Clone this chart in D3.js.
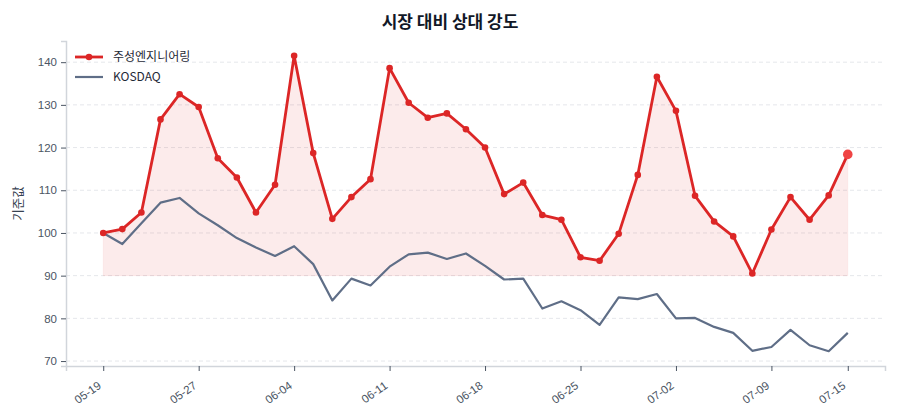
<!DOCTYPE html>
<html><head><meta charset="utf-8">
<script src="https://cdn.jsdelivr.net/npm/d3@7"></script>
<style>
body{margin:0;background:#fff;}
svg{font-family:"Noto Sans CJK KR","Noto Sans",sans-serif;}
</style></head>
<body><svg id="chart" width="900" height="420"></svg>
<script>
const dates = ["05-19","05-20","05-21","05-22","05-23","05-27","05-28","05-29","05-30","06-02",
  "06-04","06-05","06-06","06-09","06-10","06-11","06-12","06-13","06-16","06-17",
  "06-18","06-19","06-20","06-23","06-24","06-25","06-26","06-27","06-30","07-01",
  "07-02","07-03","07-04","07-07","07-08","07-09","07-10","07-11","07-14","07-15"];
const stockValues = [100,100.9,104.8,126.6,132.5,129.5,117.5,113.0,104.8,111.3,
  141.5,118.7,103.3,108.4,112.6,138.6,130.5,127.0,128.0,124.3,
  120.0,109.1,111.8,104.2,103.1,94.3,93.5,99.8,113.6,136.6,
  128.6,108.7,102.7,99.2,90.5,100.8,108.4,103.1,108.8,118.4];
const kosdaqValues = [100,97.4,102.3,107.1,108.2,104.6,101.8,98.8,96.6,94.6,
  96.9,92.7,84.2,89.3,87.7,92.1,95.0,95.4,93.9,95.2,
  92.3,89.1,89.3,82.3,84.0,81.9,78.5,84.9,84.5,85.7,
  80.0,80.1,78.0,76.6,72.4,73.3,77.3,73.7,72.3,76.6];
const tickIdx = [0,5,10,15,20,25,30,35,39];
const yTicks = [70,80,90,100,110,120,130,140];
const seriesNames = ["주성엔지니어링","KOSDAQ"];
const baseline = 90;

const W=900,H=420, m={left:66,right:15,top:41,bottom:54};
const svg=d3.select("#chart");
const n=dates.length;
const pad=(n-1)*0.05;
const x=d3.scaleLinear().domain([-pad,n-1+pad]).range([m.left,W-m.right]);
const all=stockValues.concat(kosdaqValues);
const mn=d3.min(all), mx=d3.max(all), yp=(mx-mn)*0.05;
const y=d3.scaleLinear().domain([mn-yp,mx+yp]).range([H-m.bottom,m.top]);

// grid
svg.append("g").selectAll("line").data(yTicks).join("line")
 .attr("x1",m.left).attr("x2",W-m.right).attr("y1",d=>y(d)).attr("y2",d=>y(d))
 .attr("stroke","#e5e7eb").attr("stroke-dasharray","4,3").attr("stroke-width",1);

// area
const area=d3.area().x((d,i)=>x(i)).y0(y(baseline)).y1(d=>y(d));
svg.append("path").datum(stockValues).attr("d",area)
 .attr("fill","#dc2626").attr("fill-opacity",0.09).attr("stroke","#dc2626").attr("stroke-opacity",0.05);

const line=d3.line().x((d,i)=>x(i)).y(d=>y(d));
svg.append("path").datum(kosdaqValues).attr("d",line).attr("fill","none")
 .attr("stroke","#5f6e87").attr("stroke-width",2.2).attr("stroke-linejoin","round");
svg.append("path").datum(stockValues).attr("d",line).attr("fill","none")
 .attr("stroke","#dc2626").attr("stroke-width",2.8).attr("stroke-linejoin","round");
svg.append("g").selectAll("circle").data(stockValues).join("circle")
 .attr("cx",(d,i)=>x(i)).attr("cy",d=>y(d))
 .attr("r",(d,i)=>i===n-1?4.8:3.3)
 .attr("fill",(d,i)=>i===n-1?"#ef4444":"#dc2626");

// axes
const xAxis=d3.axisBottom(x).tickValues(tickIdx).tickFormat(i=>dates[i]).tickSize(5).tickPadding(4);
const gx=svg.append("g").attr("transform",`translate(0,${H-m.bottom})`).call(xAxis);
gx.select(".domain").attr("stroke","#d1d5db").attr("stroke-width",1.5);
gx.selectAll(".tick line").attr("stroke","#4b5563");
gx.selectAll("text").attr("fill","#4b5563").style("font-size","11.5px")
 .attr("text-anchor","end").attr("x",0).attr("y",0).attr("dy","0.35em")
 .attr("transform","translate(-4,18) rotate(-35)");

const yAxis=d3.axisLeft(y).tickValues(yTicks).tickSize(5).tickPadding(4);
const gy=svg.append("g").attr("transform",`translate(${m.left},0)`).call(yAxis);
gy.select(".domain").attr("stroke","#d1d5db").attr("stroke-width",1.5);
gy.selectAll(".tick line").attr("stroke","#4b5563");
gy.selectAll("text").attr("fill","#4b5563").style("font-size","11.5px");

svg.append("text").attr("transform",`translate(23,${(m.top+H-m.bottom)/2}) rotate(-90)`)
 .attr("text-anchor","middle").attr("fill","#374151").style("font-size","12.5px").text("기준값");

svg.append("text").attr("x",W/2).attr("y",28).attr("text-anchor","middle")
 .attr("fill","#111827").style("font-size","17px").style("font-weight","bold").text("시장 대비 상대 강도");

// legend
const lg=svg.append("g");
const colors=["#dc2626","#5f6e87"];
seriesNames.forEach((s,i)=>{
  const yy=57+i*20;
  lg.append("line").attr("x1",75).attr("x2",103).attr("y1",yy).attr("y2",yy)
    .attr("stroke",colors[i]).attr("stroke-width",i===0?2.8:2.2);
  if(i===0) lg.append("circle").attr("cx",89).attr("cy",yy).attr("r",3.3).attr("fill",colors[i]);
  lg.append("text").attr("x",113).attr("y",yy).attr("dy","0.35em").attr("fill","#1f2937")
    .style("font-size","12px").text(s);
});
</script></body></html>
